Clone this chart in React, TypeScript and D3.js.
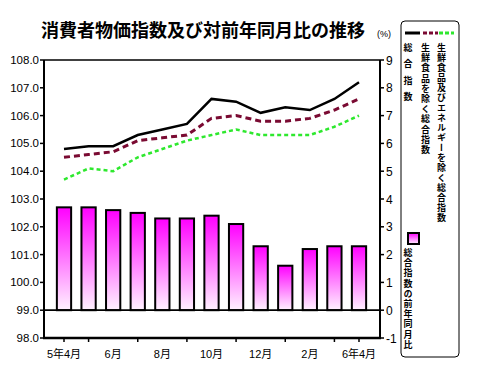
import React from "react";
import * as d3 from "d3";

const months = ["5年4月", "5月", "6月", "7月", "8月", "9月", "10月", "11月", "12月", "1月", "2月", "3月", "6年4月"];
const tickLabelMonths = ["5年4月", "6月", "8月", "10月", "12月", "2月", "6年4月"];
const sogo = [104.8, 104.9, 104.9, 105.3, 105.5, 105.7, 106.6, 106.5, 106.1, 106.3, 106.2, 106.6, 107.2];
const exFresh = [104.5, 104.6, 104.7, 105.1, 105.2, 105.3, 105.9, 106.0, 105.8, 105.8, 105.9, 106.2, 106.6];
const exFreshEnergy = [103.7, 104.1, 104.0, 104.5, 104.8, 105.1, 105.3, 105.5, 105.3, 105.3, 105.3, 105.6, 106.0];
const yoy = [3.7, 3.7, 3.6, 3.5, 3.3, 3.3, 3.4, 3.1, 2.3, 1.6, 2.2, 2.3, 2.3];
const leftTicks = [98, 99, 100, 101, 102, 103, 104, 105, 106, 107, 108];
const rightTicks = [-1, 0, 1, 2, 3, 4, 5, 6, 7, 8, 9];
const title = "消費者物価指数及び対前年同月比の推移";
const legendLabels = ["総合指数", "生鮮食品を除く総合指数", "生鮮食品及びエネルギーを除く総合指数"];
const legendBarLabel = "総合指数の前年同月比";

const W = 486, H = 383;
const plot = { left: 44, right: 380, top: 60, bottom: 338 };
const labelFont = "'Liberation Sans', Arial, 'Noto Sans CJK JP', sans-serif";
const cjkFont = "'Noto Sans CJK JP', sans-serif";

export default function App() {
  const x = d3.scalePoint<string>().domain(months).range([64, 359]);
  const step = x.step();
  const barW = step * 0.58;
  const yL = d3.scaleLinear().domain([98, 108]).range([plot.bottom, plot.top]);
  const yR = d3.scaleLinear().domain([-1, 9]).range([plot.bottom, plot.top]);
  const line = (vals: number[]) =>
    d3.line<number>().x((_, i) => x(months[i])!).y((v) => yL(v)).curve(d3.curveLinear)(vals) || "";

  const tickIdx = months.map((_, i) => i).filter((i) => i === 0 || i === months.length - 1 || i % 2 === 1);

  return (
    <svg width={W} height={H} style={{ position: "absolute", left: 0, top: 0, background: "#fff" }}>
      <defs>
        <linearGradient id="barGrad" x1="0" y1="0" x2="0" y2="1">
          <stop offset="0" stopColor="#ff00ff" />
          <stop offset="1" stopColor="#fff2ff" />
        </linearGradient>
      </defs>
      <rect x={0} y={0} width={W} height={H} fill="#fff" />
      <text x={203} y={37} textAnchor="middle" fontFamily={cjkFont} fontWeight="bold" fontSize={18} fill="#000">
        {title}
      </text>
      <text x={384} y={37} textAnchor="middle" fontFamily={labelFont} fontSize={9} fill="#000">(%)</text>

      {/* bars */}
      {yoy.map((v, i) => (
        <rect key={"b" + i} x={x(months[i])! - barW / 2} y={yR(v)} width={barW} height={yR(0) - yR(v)}
          fill="url(#barGrad)" stroke="#000" strokeWidth={2} />
      ))}

      {/* 99 / 0 line */}
      <line x1={plot.left} x2={plot.right} y1={yL(99)} y2={yL(99)} stroke="#000" strokeWidth={1.8} />

      {/* lines */}
      <path d={line(exFreshEnergy)} fill="none" stroke="#2ee82e" strokeWidth={2.5} strokeDasharray="4,3" />
      <path d={line(exFresh)} fill="none" stroke="#7a0a32" strokeWidth={3} strokeDasharray="6,4" />
      <path d={line(sogo)} fill="none" stroke="#000" strokeWidth={2.5} />

      {/* frame */}
      <line x1={plot.left} x2={plot.right} y1={plot.top} y2={plot.top} stroke="#000" strokeWidth={1.5} />
      <line x1={plot.left} x2={plot.left} y1={plot.top} y2={plot.bottom} stroke="#000" strokeWidth={2} />
      <line x1={plot.right} x2={plot.right} y1={plot.top} y2={plot.bottom} stroke="#000" strokeWidth={2} />
      <line x1={plot.left - 1} x2={plot.right + 1} y1={plot.bottom} y2={plot.bottom} stroke="#000" strokeWidth={2.5} />

      {/* left axis */}
      {leftTicks.map((t) => (
        <g key={"l" + t}>
          <line x1={plot.left - 4} x2={plot.left} y1={yL(t)} y2={yL(t)} stroke="#000" strokeWidth={1.5} />
          <text x={39} y={yL(t) + 4} textAnchor="end" fontFamily={labelFont} fontSize={11.5} fill="#000">{t.toFixed(1)}</text>
        </g>
      ))}
      {/* right axis */}
      {rightTicks.map((t) => (
        <g key={"r" + t}>
          <line x1={plot.right} x2={plot.right + 4} y1={yR(t)} y2={yR(t)} stroke="#000" strokeWidth={1.5} />
          <text x={386} y={yR(t) + 4.5} textAnchor="start" fontFamily={labelFont} fontSize={12} fill="#000">{t}</text>
        </g>
      ))}
      {/* x axis */}
      {tickIdx.map((i) => (
        <line key={"xt" + i} x1={x(months[i])!} x2={x(months[i])!} y1={plot.bottom} y2={plot.bottom + 4} stroke="#000" strokeWidth={1.5} />
      ))}
      {tickLabelMonths.map((m) => (
        <text key={"xl" + m} x={x(m)!} y={358} textAnchor="middle" fontFamily={labelFont} fontSize={11} fill="#000">{m}</text>
      ))}

      {/* legend */}
      <rect x={401} y={21} width={58} height={336} rx={4} ry={4} fill="#fff" stroke="#000" strokeWidth={1} />
      <line x1={405} x2={420} y1={33} y2={33} stroke="#000" strokeWidth={3} />
      <line x1={423} x2={438} y1={33} y2={33} stroke="#7a0a32" strokeWidth={3} strokeDasharray="4,2" />
      <line x1={439} x2={454} y1={33} y2={33} stroke="#2ee82e" strokeWidth={3} strokeDasharray="4,2" />
      <text x={408} y={43} fontFamily={cjkFont} fontSize={9} fontWeight="bold" fill="#000"
        style={{ writingMode: "vertical-rl", letterSpacing: "7.5px" } as any}>{legendLabels[0]}</text>
      <text x={425.5} y={43} fontFamily={cjkFont} fontSize={9} fontWeight="bold" fill="#000"
        style={{ writingMode: "vertical-rl", letterSpacing: "1.2px" } as any}>{legendLabels[1]}</text>
      <text x={441.5} y={43} fontFamily={cjkFont} fontSize={9} fontWeight="bold" fill="#000"
        style={{ writingMode: "vertical-rl", letterSpacing: "1px" } as any}>{legendLabels[2]}</text>
      <rect x={408} y={233} width={11} height={11} fill="url(#barGrad)" stroke="#000" strokeWidth={2} />
      <text x={408} y={248} fontFamily={cjkFont} fontSize={9} fontWeight="bold" fill="#000"
        style={{ writingMode: "vertical-rl", letterSpacing: "1.2px" } as any}>{legendBarLabel}</text>
    </svg>
  );
}
